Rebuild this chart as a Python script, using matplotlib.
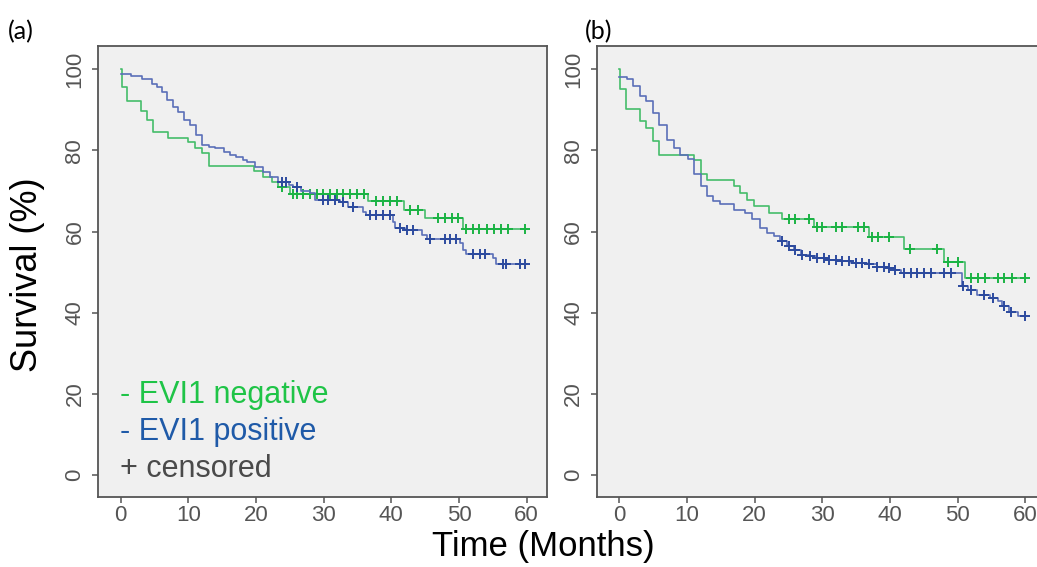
import numpy as np
import matplotlib
matplotlib.use("Agg")
import matplotlib.pyplot as plt

plt.rcParams['font.family'] = ['Liberation Sans', 'DejaVu Sans']

# ----------------------------------------------------------------------
# data (time in months, survival %)
# ----------------------------------------------------------------------

t_end = 60

# (a) EVI1 negative
neg_a_t = [0, 0.2, 0.9, 3.0, 3.9, 4.8, 7.0, 10.0, 11.0, 12.0, 13.0, 19.7, 21.0,
           22.3, 23.3, 25.0, 36.6, 41.9, 44.9, 50.6]
neg_a_s = [100, 95.6, 92.1, 89.8, 87.4, 84.5, 83.0, 82.1, 80.6, 79.5, 76.2, 74.9,
           73.4, 72.2, 70.9, 69.3, 67.5, 65.4, 63.3, 60.6]
neg_a_cens = [23.8, 25.5, 26.0, 27.0, 28.0, 29.0, 29.9, 30.9, 31.9, 32.9, 33.9,
              34.9, 35.9, 37.8, 38.8, 39.8, 40.8, 42.8, 44.0, 46.9, 47.9, 48.9,
              49.9, 51.0, 52.0, 53.0, 54.1, 55.1, 56.2, 57.3, 59.8]

# (a) EVI1 positive
pos_a_t = [0, 1.6, 3.1, 4.6, 5.3, 6.1, 6.8, 7.8, 8.5, 9.3, 10.2, 11.2, 12.0, 13.0,
           13.9, 15.2, 16.2, 17.1, 18.1, 18.6, 19.8, 21.1, 22.1, 23.3, 24.8, 25.5,
           26.7, 28.0, 28.7, 32.4, 33.6, 35.8, 36.3, 40.3, 40.5, 42.0, 44.5, 45.2,
           50.1, 50.6, 51.1, 55.0, 55.5]
pos_a_s = [98.9, 98.3, 97.5, 96.5, 95.6, 94.4, 92.4, 90.7, 89.5, 87.4, 86.2, 83.7,
           81.3, 80.9, 80.5, 79.6, 78.8, 78.4, 77.6, 77.2, 75.9, 74.7, 73.5, 72.2,
           71.4, 70.9, 70.0, 69.4, 67.7, 67.3, 66.1, 64.9, 64.0, 62.4, 61.0, 60.3,
           59.1, 58.3, 57.1, 55.4, 54.4, 53.4, 52.1]
pos_a_cens = [23.8, 24.5, 26.0, 29.9, 30.7, 31.7, 32.9, 34.4, 36.8, 37.8, 38.8,
              39.8, 41.3, 42.3, 43.2, 45.7, 47.9, 48.6, 49.6, 52.1, 53.1, 53.8,
              56.5, 57.0, 59.0, 59.8]

# (b) EVI1 negative
neg_b_t = [0, 0.1, 1.0, 3.0, 4.0, 4.9, 5.9, 11.0, 12.0, 12.9, 16.9, 17.9, 18.9,
           19.9, 22.1, 24.0, 28.7, 36.9, 42.0, 48.0, 51.0]
neg_b_s = [100, 95.2, 90.3, 87.2, 85.6, 82.3, 79.0, 77.6, 74.1, 72.7, 71.2, 69.5,
           67.7, 66.3, 64.6, 63.0, 61.2, 58.7, 55.7, 52.4, 48.6]
neg_b_cens = [25.0, 26.0, 28.0, 29.2, 30.0, 32.0, 32.9, 35.2, 36.1, 37.4, 38.2,
              39.9, 43.0, 47.0, 48.5, 50.0, 52.0, 53.0, 54.0, 55.9, 56.9, 58.0, 60.0]

# (b) EVI1 positive
pos_b_t = [0, 1.1, 2.0, 3.0, 4.0, 4.9, 5.9, 7.0, 8.0, 9.0, 10.2, 11.0, 12.0, 12.9,
           13.9, 14.9, 16.9, 18.6, 19.6, 20.8, 21.8, 22.8, 23.8, 24.8, 25.8, 26.8,
           28.0, 29.2, 30.7, 32.2, 34.2, 36.6, 38.1, 39.9, 40.8, 41.6, 50.6, 51.5,
           52.9, 54.7, 55.9, 56.6, 57.6, 58.9]
pos_b_s = [98.2, 97.5, 95.9, 93.4, 92.2, 89.3, 86.4, 82.7, 80.7, 79.0, 77.8, 74.1,
           71.2, 68.7, 67.5, 66.7, 65.4, 64.6, 63.0, 60.9, 59.7, 58.8, 57.6, 56.4,
           55.4, 54.3, 53.9, 53.5, 53.1, 52.7, 52.3, 51.9, 51.4, 51.0, 50.5, 49.8,
           46.5, 45.7, 44.4, 43.6, 42.8, 41.6, 40.3, 39.3]
pos_b_cens = [24.0, 25.0, 26.0, 27.0, 28.2, 29.2, 30.2, 31.0, 32.0, 32.9, 33.9,
              34.9, 35.9, 36.9, 38.1, 39.1, 39.9, 40.8, 42.1, 43.1, 44.0, 45.0,
              46.0, 48.0, 49.0, 50.8, 52.0, 53.9, 55.2, 56.9, 57.9, 59.9]

x_ticks = [0, 10, 20, 30, 40, 50, 60]
y_ticks = [0, 20, 40, 60, 80, 100]

green_line = '#45bd6a'
green_mark = '#1bb344'
blue_line = '#5a6fb8'
blue_mark = '#2c4a9e'


def km_curve(ax, t, s, cens, lc, mc):
    # step curve carried out to end of follow-up
    tt = np.append(t, t_end)
    ss = np.append(s, s[-1])
    ax.step(tt, ss, where='post', color=lc, lw=1.2)
    # censor marks sit on the curve
    idx = np.searchsorted(t, cens, side='right') - 1
    ax.plot(cens, np.array(s)[idx], '+', color=mc, ms=6.5, mew=1.4)


fig = plt.figure(figsize=(10.37, 5.67), dpi=100)
ax_a = fig.add_axes([0.0945, 0.1235, 0.433, 0.795])
ax_b = fig.add_axes([0.5754, 0.1235, 0.433, 0.795])

for ax in (ax_a, ax_b):
    ax.set_facecolor('#f0f0f0')
    ax.set_xlim(-3.35, 63.0)
    ax.set_ylim(-5.4, 105.7)
    ax.set_xticks(x_ticks)
    ax.set_yticks(y_ticks)
    ax.tick_params(direction='out', length=4, width=1.1, color='#555555',
                   labelcolor='#555555', labelsize=16)
    ax.tick_params(axis='x', pad=2)
    ax.tick_params(axis='y', pad=5)
    for lab in ax.get_yticklabels():
        lab.set_rotation(90)
        lab.set_va('center')
    for sp in ax.spines.values():
        sp.set_color('#555555')
        sp.set_linewidth(1.3)

km_curve(ax_a, neg_a_t, neg_a_s, neg_a_cens, green_line, green_mark)
km_curve(ax_a, pos_a_t, pos_a_s, pos_a_cens, blue_line, blue_mark)
km_curve(ax_b, neg_b_t, neg_b_s, neg_b_cens, green_line, green_mark)
km_curve(ax_b, pos_b_t, pos_b_s, pos_b_cens, blue_line, blue_mark)

# legend drawn as plain text, like the original
ax_a.text(0.049, 0.208, '- EVI1 negative', color='#1fc447', fontsize=22,
          transform=ax_a.transAxes, va='baseline')
ax_a.text(0.049, 0.126, '- EVI1 positive', color='#1f5aa8', fontsize=22,
          transform=ax_a.transAxes, va='baseline')
ax_a.text(0.049, 0.044, '+ censored', color='#4a4a4a', fontsize=22,
          transform=ax_a.transAxes, va='baseline')

fig.text(0.027, 0.515, 'Survival (%)', rotation=90, fontsize=26,
         ha='center', va='center')
fig.text(0.5236, 0.02, 'Time (Months)', fontsize=25, ha='center', va='baseline')

fig.text(0.008, 0.945, '(a)', fontsize=18, family=['Lato', 'DejaVu Sans'], va='center')
fig.text(0.564, 0.945, '(b)', fontsize=18, family=['Lato', 'DejaVu Sans'], va='center')

fig.savefig('out.png', dpi=100)
